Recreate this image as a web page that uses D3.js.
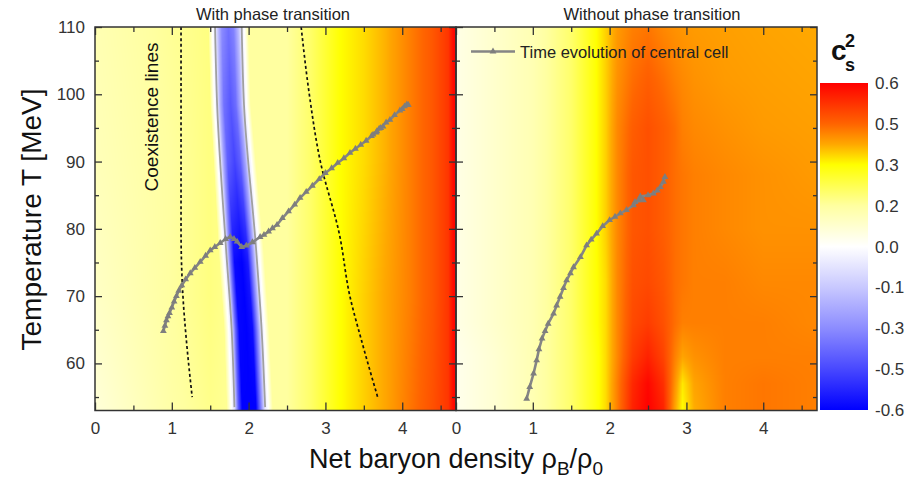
<!DOCTYPE html>
<html><head><meta charset="utf-8">
<script src="https://cdn.jsdelivr.net/npm/d3@7"></script>
<style>
body{margin:0;background:#fff;}
svg{display:block;font-family:"Liberation Sans",Arial,sans-serif;}
</style>
</head><body>
<svg id="chart" width="912" height="482"></svg>
<script>
// ---------------- DATA ----------------
const panelTitles = ["With phase transition", "Without phase transition"];
const xTickValues = [0, 1, 2, 3, 4];
const xMinorTicks = [0.5, 1.5, 2.5, 3.5, 4.5];
const yTickValues = [60, 70, 80, 90, 100, 110];
const yMinorTicks = [55, 65, 75, 85, 95, 105];
const colorbarLevels = [0.6, 0.45, 0.3, 0.15, 0, -0.15, -0.3, -0.45, -0.6];
const colorbarLabels = ["0.6", "0.5", "0.3", "0.2", "0.0", "-0.1", "-0.3", "-0.5", "-0.6"];

// colour map for c_s^2
const colorStops = [-0.6, -0.45, -0.3, -0.15, 0, 0.15, 0.3, 0.375, 0.45, 0.6];
const colorValues = ["#0000ff", "#4848ff", "#8c8cff", "#c8c8ff", "#ffffff", "#ffffa0", "#ffff00", "#ffa800", "#ff6400", "#ff0000"];

// Left panel (with phase transition): background c_s^2 grid (rows = T ascending)
const leftGridX = [0, 0.5, 1, 1.5, 2.0, 2.5, 2.8, 3.0, 3.2, 3.5, 3.8, 4.1, 4.4, 4.6, 4.66, 4.7];
const leftGridT = [53, 70, 90, 110];
const leftGridV = [
  [0.06, 0.10, 0.14, 0.17, 0.15, 0.15, 0.20, 0.25, 0.30, 0.34, 0.38, 0.43, 0.48, 0.52, 0.58, 0.60],
  [0.09, 0.12, 0.15, 0.18, 0.15, 0.15, 0.20, 0.25, 0.30, 0.34, 0.38, 0.42, 0.47, 0.52, 0.58, 0.60],
  [0.11, 0.13, 0.15, 0.18, 0.15, 0.15, 0.20, 0.25, 0.30, 0.33, 0.37, 0.42, 0.47, 0.52, 0.58, 0.60],
  [0.12, 0.14, 0.16, 0.18, 0.15, 0.15, 0.20, 0.25, 0.30, 0.33, 0.37, 0.42, 0.47, 0.52, 0.58, 0.60]
];
// negative c_s^2 band (spinodal region): zero-contour edges
const bandEdgeT = [53.5, 64.9, 76.9, 98.4, 110];
const bandLeft  = [1.815, 1.78, 1.707, 1.59, 1.563];
const bandRight = [2.215, 2.17, 2.098, 1.94, 1.91];
// profile across band (u = -1 left edge, +1 right edge)
const bandProfileU = [-1.5, -1.2, -1, -0.75, -0.5, 0, 0.4, 0.75, 1, 1.2, 1.5];
const bandProfileT = [53.5, 75, 90, 110];
const bandProfileV = [
  [null, 0.0, -0.08, -0.40, -0.60, -0.60, -0.60, -0.30, -0.06, 0.0, null],
  [null, 0.0, -0.07, -0.36, -0.58, -0.60, -0.55, -0.28, -0.06, 0.0, null],
  [null, 0.0, -0.06, -0.26, -0.40, -0.46, -0.40, -0.24, -0.06, 0.0, null],
  [null, 0.0, -0.05, -0.18, -0.30, -0.36, -0.32, -0.18, -0.05, 0.0, null]
];
// coexistence lines
const coexLeftX  = [1.12, 1.12, 1.12, 1.145, 1.19, 1.265];
const coexLeftT  = [110, 90, 80, 70, 63.4, 55];
const coexRightX = [2.684, 2.79, 2.93, 3.18, 3.32, 3.47, 3.68];
const coexRightT = [110, 100, 90.2, 79.3, 69.9, 63.4, 55];

// Right panel (without phase transition)
const rightGridX = [0, 0.5, 1, 1.5, 1.8, 1.95, 2.1, 2.3, 2.5, 2.7, 2.85, 2.95, 3.1, 3.5, 4.0, 4.7];
const rightGridT = [53, 57, 61, 66, 72, 80, 88, 95, 102, 110];
const rightGridV = [
  [0.03, 0.07, 0.12, 0.20, 0.28, 0.33, 0.42, 0.55, 0.60, 0.55, 0.38, 0.30, 0.37, 0.42, 0.43, 0.42],
  [0.03, 0.07, 0.12, 0.20, 0.28, 0.33, 0.42, 0.54, 0.59, 0.53, 0.40, 0.32, 0.38, 0.42, 0.43, 0.42],
  [0.03, 0.07, 0.12, 0.20, 0.28, 0.33, 0.41, 0.51, 0.55, 0.50, 0.42, 0.38, 0.40, 0.42, 0.42, 0.42],
  [0.04, 0.08, 0.12, 0.20, 0.29, 0.33, 0.41, 0.49, 0.51, 0.48, 0.44, 0.42, 0.42, 0.42, 0.42, 0.41],
  [0.04, 0.08, 0.12, 0.20, 0.29, 0.33, 0.41, 0.48, 0.49, 0.47, 0.44, 0.43, 0.42, 0.42, 0.41, 0.41],
  [0.04, 0.08, 0.12, 0.20, 0.29, 0.34, 0.41, 0.47, 0.48, 0.46, 0.44, 0.43, 0.42, 0.41, 0.40, 0.40],
  [0.04, 0.08, 0.12, 0.20, 0.29, 0.34, 0.41, 0.47, 0.48, 0.46, 0.44, 0.43, 0.42, 0.41, 0.40, 0.39],
  [0.04, 0.08, 0.12, 0.20, 0.29, 0.34, 0.41, 0.46, 0.48, 0.46, 0.44, 0.42, 0.41, 0.40, 0.39, 0.385],
  [0.04, 0.08, 0.12, 0.20, 0.29, 0.34, 0.40, 0.44, 0.46, 0.44, 0.42, 0.41, 0.40, 0.39, 0.385, 0.38],
  [0.04, 0.08, 0.12, 0.20, 0.29, 0.34, 0.39, 0.42, 0.43, 0.41, 0.40, 0.395, 0.39, 0.385, 0.38, 0.375]
];

// Time evolution of central cell
const trajLeftX = [0.89, 0.91, 0.93, 0.95, 0.97, 1.0, 1.03, 1.06, 1.09, 1.13, 1.18, 1.24, 1.30, 1.37, 1.44, 1.5, 1.56, 1.63, 1.7, 1.76, 1.81, 1.85, 1.91, 1.97, 2.05, 2.15, 2.2, 2.26, 2.31, 2.37, 2.44, 2.52, 2.6, 2.67, 2.75, 2.83, 2.92, 3.0, 3.08, 3.16, 3.24, 3.32, 3.39, 3.46, 3.53, 3.6, 3.66, 3.62, 3.7, 3.67, 3.75, 3.72, 3.79, 3.84, 3.9, 3.97, 4.03, 4.0, 4.06, 4.08];
const trajLeftT = [64.8, 65.6, 66.4, 67.0, 67.5, 68.3, 69.2, 70.0, 70.8, 71.6, 72.5, 73.4, 74.2, 75.1, 76.0, 76.8, 77.3, 77.9, 78.5, 78.8, 78.5, 78.1, 77.3, 77.5, 78.0, 78.8, 79.1, 79.6, 80.1, 80.6, 81.6, 82.6, 83.6, 84.6, 85.5, 86.4, 87.4, 88.3, 89.0, 89.8, 90.5, 91.3, 91.9, 92.5, 93.1, 93.8, 94.3, 94.0, 94.9, 94.5, 95.2, 95.0, 95.8, 96.2, 96.9, 97.6, 98.2, 97.8, 98.5, 98.4];
const trajRightX = [0.92, 0.96, 1.01, 1.05, 1.08, 1.12, 1.16, 1.20, 1.27, 1.31, 1.355, 1.40, 1.44, 1.49, 1.53, 1.62, 1.70, 1.76, 1.83, 1.91, 2.0, 2.07, 2.14, 2.22, 2.31, 2.38, 2.33, 2.44, 2.40, 2.50, 2.57, 2.62, 2.66, 2.70, 2.72];
const trajRightT = [54.75, 56.5, 58.5, 60.45, 62.1, 63.7, 64.8, 65.9, 67.4, 68.6, 69.9, 71.2, 72.35, 73.4, 74.3, 75.8, 77.55, 78.4, 79.3, 80.4, 81.3, 81.8, 82.3, 82.8, 83.5, 84.3, 84.0, 84.25, 84.8, 85.0, 85.25, 85.7, 86.2, 87.0, 87.7];

// ---------------- CHART ----------------
const svg = d3.select("#chart");
const TOP = 27, BOTTOM = 410.5;
const xL = d3.scaleLinear().domain([0, 4.7]).range([95, 456]);
const xR = d3.scaleLinear().domain([0, 4.7]).range([456, 817]);
const y = d3.scaleLinear().domain([53, 110]).range([BOTTOM, TOP]);
const color = d3.scaleLinear().domain(colorStops).range(colorValues).clamp(true);

function locate(arr, v) {
  if (v <= arr[0]) return [0, 0];
  if (v >= arr[arr.length - 1]) return [arr.length - 2, 1];
  const i = d3.bisectRight(arr, v) - 1;
  return [i, (v - arr[i]) / (arr[i + 1] - arr[i])];
}
function interp1(xs, vs, v) { const [i, f] = locate(xs, v); return vs[i] * (1 - f) + vs[i + 1] * f; }
function gridValue(gx, gt, gv, x, t) {
  const [i, fx] = locate(gx, x), [j, ft] = locate(gt, t);
  const a = gv[j][i] * (1 - fx) + gv[j][i + 1] * fx;
  const b = gv[j + 1][i] * (1 - fx) + gv[j + 1][i + 1] * fx;
  return a * (1 - ft) + b * ft;
}
function bandValue(x, t, bg) {
  const tt = Math.max(t, bandEdgeT[0]);
  const L = interp1(bandEdgeT, bandLeft, tt), R = interp1(bandEdgeT, bandRight, tt);
  const c = (L + R) / 2, h = (R - L) / 2, u = (x - c) / h;
  const au = Math.abs(u);
  if (au >= 1.5) return bg;
  if (au > 1.2) { const f = (au - 1.2) / 0.3; return f * bg; }
  const [j, ft] = locate(bandProfileT, tt);
  const [i, fu] = locate(bandProfileU, u);
  const r0 = bandProfileV[j], r1 = bandProfileV[j + 1];
  const a = r0[i] * (1 - fu) + r0[i + 1] * fu;
  const b = r1[i] * (1 - fu) + r1[i + 1] * fu;
  return a * (1 - ft) + b * ft;
}
function renderField(xs, valueFn) {
  const x0 = Math.round(xs.range()[0]), x1 = Math.round(xs.range()[1]);
  const y0 = Math.round(TOP), y1 = Math.round(BOTTOM);
  const w = x1 - x0, h = y1 - y0;
  const cv = document.createElement("canvas");
  cv.width = w; cv.height = h;
  const ctx = cv.getContext("2d");
  const img = ctx.createImageData(w, h);
  for (let py = 0; py < h; py++) {
    const t = y.invert(y0 + py + 0.5);
    for (let px = 0; px < w; px++) {
      const xv = xs.invert(x0 + px + 0.5);
      const c = d3.rgb(color(valueFn(xv, t)));
      const k = (py * w + px) * 4;
      img.data[k] = c.r; img.data[k + 1] = c.g; img.data[k + 2] = c.b; img.data[k + 3] = 255;
    }
  }
  ctx.putImageData(img, 0, 0);
  svg.append("image").attr("href", cv.toDataURL()).attr("x", x0).attr("y", y0)
    .attr("width", w).attr("height", h).attr("preserveAspectRatio", "none");
}

renderField(xL, (x, t) => bandValue(x, t, gridValue(leftGridX, leftGridT, leftGridV, x, t)));
renderField(xR, (x, t) => gridValue(rightGridX, rightGridT, rightGridV, x, t));

// clip paths
const defs = svg.append("defs");
[["clipL", xL], ["clipR", xR]].forEach(([id, xs]) => {
  defs.append("clipPath").attr("id", id).append("rect")
    .attr("x", xs.range()[0]).attr("y", TOP).attr("width", xs.range()[1] - xs.range()[0]).attr("height", BOTTOM - TOP);
});

const gL = svg.append("g").attr("clip-path", "url(#clipL)");
const gR = svg.append("g").attr("clip-path", "url(#clipR)");

// band outline (zero contour)
const edgeLine = d3.line().x(d => xL(d[0])).y(d => y(d[1])).curve(d3.curveMonotoneY);
[bandLeft, bandRight].forEach(arr => {
  gL.append("path").datum(arr.map((v, i) => [v, bandEdgeT[i]]))
    .attr("d", edgeLine).attr("fill", "none").attr("stroke", "#a0a0a0").attr("stroke-width", 1.8);
});

// coexistence lines
const coexLine = d3.line().x(d => xL(d[0])).y(d => y(d[1])).curve(d3.curveMonotoneY);
[[coexLeftX, coexLeftT], [coexRightX, coexRightT]].forEach(([xs, ts]) => {
  gL.append("path").datum(xs.map((v, i) => [v, ts[i]]))
    .attr("d", coexLine).attr("fill", "none").attr("stroke", "#111")
    .attr("stroke-width", 1.7).attr("stroke-dasharray", "3,2.6");
});

// trajectories
const tri = d3.symbol().type(d3.symbolTriangle).size(20);
function drawTraj(g, xs, X, T) {
  const pts = X.map((v, i) => [xs(v), y(T[i])]);
  g.append("path").datum(pts).attr("d", d3.line()).attr("fill", "none")
    .attr("stroke", "#858585").attr("stroke-width", 2.6).attr("stroke-linejoin", "round");
  g.selectAll(null).data(pts).enter().append("path")
    .attr("d", tri).attr("transform", d => `translate(${d[0]},${d[1]})`).attr("fill", "#7e7e7e");
}
drawTraj(gL, xL, trajLeftX, trajLeftT);
drawTraj(gR, xR, trajRightX, trajRightT);

// axes
function styleAxis(sel, showText) {
  sel.select(".domain").remove();
  sel.selectAll(".tick line").attr("stroke", "#333").attr("stroke-width", 1.3);
  sel.selectAll(".tick text").attr("fill", "#333").attr("font-size", 17)
    .attr("font-family", "'Liberation Sans', Arial, sans-serif");
  if (!showText) sel.selectAll(".tick text").remove();
}
function drawAxes(xs, showY) {
  const x0 = xs.range()[0], x1 = xs.range()[1];
  svg.append("g").attr("transform", `translate(0,${BOTTOM})`)
    .call(d3.axisBottom(xs).tickValues(xTickValues).tickSize(-8).tickPadding(11).tickFormat(d3.format("d")))
    .call(s => styleAxis(s, true));
  svg.append("g").attr("transform", `translate(0,${BOTTOM})`)
    .call(d3.axisBottom(xs).tickValues(xMinorTicks).tickSize(-5).tickFormat(""))
    .call(s => styleAxis(s, false));
  svg.append("g").attr("transform", `translate(0,${TOP})`)
    .call(d3.axisTop(xs).tickValues(xTickValues).tickSize(-8).tickFormat(""))
    .call(s => styleAxis(s, false));
  svg.append("g").attr("transform", `translate(0,${TOP})`)
    .call(d3.axisTop(xs).tickValues(xMinorTicks).tickSize(-5).tickFormat(""))
    .call(s => styleAxis(s, false));
  svg.append("g").attr("transform", `translate(${x0},0)`)
    .call(d3.axisLeft(y).tickValues(yTickValues).tickSize(-7).tickPadding(10).tickFormat(d3.format("d")))
    .call(s => styleAxis(s, showY));
  svg.append("g").attr("transform", `translate(${x0},0)`)
    .call(d3.axisLeft(y).tickValues(yMinorTicks).tickSize(-4).tickFormat(""))
    .call(s => styleAxis(s, false));
  svg.append("g").attr("transform", `translate(${x1},0)`)
    .call(d3.axisRight(y).tickValues(yTickValues).tickSize(-7).tickFormat(""))
    .call(s => styleAxis(s, false));
  svg.append("g").attr("transform", `translate(${x1},0)`)
    .call(d3.axisRight(y).tickValues(yMinorTicks).tickSize(-4).tickFormat(""))
    .call(s => styleAxis(s, false));
  svg.append("rect").attr("x", x0).attr("y", TOP).attr("width", x1 - x0).attr("height", BOTTOM - TOP)
    .attr("fill", "none").attr("stroke", "#333").attr("stroke-width", 1.5);
}
drawAxes(xL, true);
drawAxes(xR, false);

// panel titles
svg.append("text").attr("x", 273).attr("y", 20).attr("text-anchor", "middle")
  .attr("font-size", 16.5).attr("fill", "#222").text(panelTitles[0]);
svg.append("text").attr("x", 652).attr("y", 20).attr("text-anchor", "middle")
  .attr("font-size", 16.5).attr("fill", "#222").text(panelTitles[1]);

// coexistence label
svg.append("text").attr("transform", "translate(158,117) rotate(-90)").attr("text-anchor", "middle")
  .attr("font-size", 19).attr("fill", "#111").text("Coexistence lines");

// legend
const legY = 51.5;
svg.append("line").attr("x1", 471).attr("x2", 515).attr("y1", legY).attr("y2", legY)
  .attr("stroke", "#858585").attr("stroke-width", 2.6);
svg.append("path").attr("d", tri).attr("transform", `translate(493,${legY})`).attr("fill", "#7e7e7e");
svg.append("text").attr("x", 520).attr("y", legY + 6).attr("font-size", 16.5).attr("fill", "#222")
  .text("Time evolution of central cell");

// axis titles
svg.append("text").attr("transform", "translate(41,219.5) rotate(-90)").attr("text-anchor", "middle")
  .attr("font-size", 28).attr("fill", "#111").text("Temperature T [MeV]");
const xt = svg.append("text").attr("x", 456).attr("y", 468).attr("text-anchor", "middle")
  .attr("font-size", 27).attr("fill", "#111");
xt.append("tspan").text("Net baryon density ρ");
xt.append("tspan").attr("font-size", 19).attr("dy", 7).text("B");
xt.append("tspan").attr("dy", -7).text("/ρ");
xt.append("tspan").attr("font-size", 19).attr("dy", 7).text("0");

// colour bar
const cb = d3.scaleLinear().domain([0.6, -0.6]).range([83, 410]);
const grad = defs.append("linearGradient").attr("id", "cbgrad").attr("x1", 0).attr("x2", 0).attr("y1", 0).attr("y2", 1);
colorStops.slice().reverse().forEach(v => {
  grad.append("stop").attr("offset", (cb(v) - 83) / (410 - 83)).attr("stop-color", color(v));
});
svg.append("rect").attr("x", 820).attr("y", 83).attr("width", 48).attr("height", 327).attr("fill", "url(#cbgrad)");
svg.selectAll(null).data(colorbarLevels).enter().append("text")
  .attr("x", 875).attr("y", d => cb(d) + 6).attr("font-size", 17).attr("fill", "#333")
  .text((d, i) => colorbarLabels[i]);
svg.append("text").attr("x", 831).attr("y", 60).attr("font-size", 28).attr("font-weight", "bold").attr("fill", "#111").text("c");
svg.append("text").attr("x", 845).attr("y", 47).attr("font-size", 18).attr("font-weight", "bold").attr("fill", "#111").text("2");
svg.append("text").attr("x", 845).attr("y", 71).attr("font-size", 18).attr("font-weight", "bold").attr("fill", "#111").text("s");
</script>
</body></html>
